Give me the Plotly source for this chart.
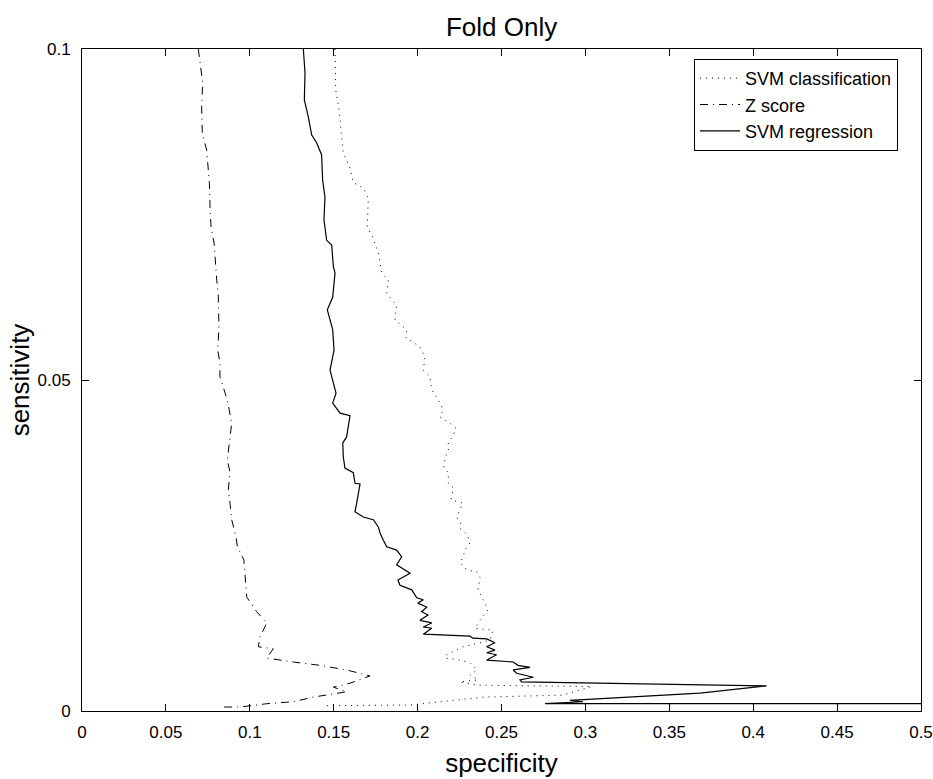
import plotly.graph_objects as go

# ---------------- data ----------------
svm_reg_spec = [0.1319, 0.1329, 0.1325, 0.1349, 0.1369, 0.1399, 0.1428, 0.1434, 0.1448, 0.1442,
                0.1458, 0.1488, 0.1498, 0.1508, 0.1494, 0.1462, 0.1494, 0.1502, 0.1478, 0.1514,
                0.1494, 0.1538, 0.1597, 0.1577, 0.1554, 0.1557, 0.1567, 0.1617, 0.1627, 0.1657,
                0.1637, 0.1627, 0.1676, 0.1736, 0.1766, 0.1776, 0.1796, 0.1816, 0.1875, 0.1905,
                0.1875, 0.1955, 0.1883, 0.1895, 0.1965, 0.1995, 0.2034, 0.2002, 0.2054, 0.2024,
                0.2062, 0.2014, 0.2084, 0.2034, 0.2084, 0.2034, 0.2312, 0.2330, 0.2412, 0.2461,
                0.2412, 0.2461, 0.2412, 0.2471, 0.2412, 0.2570, 0.2598, 0.2670, 0.2570, 0.2590,
                0.2690, 0.2610, 0.2620, 0.4080, 0.3683, 0.2908, 0.2986, 0.2759, 0.5000]
svm_reg_sens = [0.1000, 0.0964, 0.0923, 0.0897, 0.0870, 0.0858, 0.0840, 0.0802, 0.0776, 0.0742,
                0.0711, 0.0704, 0.0671, 0.0662, 0.0625, 0.0606, 0.0576, 0.0545, 0.0515, 0.0480,
                0.0465, 0.0450, 0.0446, 0.0414, 0.0405, 0.0384, 0.0367, 0.0360, 0.0344, 0.0343,
                0.0314, 0.0301, 0.0293, 0.0289, 0.0278, 0.0269, 0.0258, 0.0248, 0.0243, 0.0233,
                0.0221, 0.0208, 0.0198, 0.0190, 0.0183, 0.0171, 0.0168, 0.0163, 0.0157, 0.0150,
                0.0145, 0.0137, 0.0133, 0.0127, 0.0125, 0.0116, 0.0113, 0.0110, 0.0109, 0.0103,
                0.0097, 0.0092, 0.0088, 0.0085, 0.0077, 0.0074, 0.0069, 0.0066, 0.0062, 0.0057,
                0.0051, 0.0047, 0.0044, 0.0038, 0.0027, 0.0016, 0.0014, 0.0011, 0.0011]

svm_cls_spec = [0.1508, 0.1508, 0.1512, 0.1532, 0.1548, 0.1557, 0.1597, 0.1617, 0.1676, 0.1706,
                0.1700, 0.1732, 0.1766, 0.1786, 0.1825, 0.1816, 0.1846, 0.1875, 0.1865, 0.1935,
                0.1931, 0.1974, 0.2014, 0.2044, 0.2034, 0.2074, 0.2084, 0.2114, 0.2153, 0.2134,
                0.2193, 0.2229, 0.2209, 0.2183, 0.2183, 0.2163, 0.2157, 0.2183, 0.2183, 0.2213,
                0.2199, 0.2269, 0.2233, 0.2257, 0.2253, 0.2296, 0.2312, 0.2282, 0.2272, 0.2253,
                0.2294, 0.2354, 0.2372, 0.2360, 0.2390, 0.2420, 0.2372, 0.2342, 0.2449, 0.2431,
                0.2372, 0.2271, 0.2175, 0.2163, 0.2253, 0.2312, 0.2354, 0.2312, 0.2360, 0.2253,
                0.2354, 0.3039, 0.2866, 0.2390, 0.1955, 0.1436]
svm_cls_sens = [0.1000, 0.0979, 0.0938, 0.0908, 0.0867, 0.0843, 0.0820, 0.0798, 0.0790, 0.0775,
                0.0731, 0.0716, 0.0692, 0.0662, 0.0651, 0.0631, 0.0621, 0.0613, 0.0591, 0.0576,
                0.0563, 0.0557, 0.0550, 0.0535, 0.0515, 0.0505, 0.0485, 0.0474, 0.0455, 0.0444,
                0.0435, 0.0427, 0.0415, 0.0405, 0.0394, 0.0382, 0.0367, 0.0360, 0.0344, 0.0337,
                0.0319, 0.0314, 0.0293, 0.0284, 0.0276, 0.0266, 0.0254, 0.0243, 0.0233, 0.0224,
                0.0213, 0.0210, 0.0202, 0.0183, 0.0168, 0.0153, 0.0137, 0.0125, 0.0122, 0.0107,
                0.0103, 0.0097, 0.0085, 0.0080, 0.0077, 0.0073, 0.0062, 0.0054, 0.0047, 0.0044,
                0.0039, 0.0037, 0.0024, 0.0021, 0.0009, 0.0008]

zscore_spec = [0.0693, 0.0703, 0.0719, 0.0713, 0.0717, 0.0743, 0.0753, 0.0759, 0.0763, 0.0769,
               0.0787, 0.0794, 0.0803, 0.0812, 0.0812, 0.0816, 0.0809, 0.0822, 0.0822, 0.0842,
               0.0866, 0.0892, 0.0878, 0.0866, 0.0882, 0.0872, 0.0882, 0.0892, 0.0918, 0.0926,
               0.0965, 0.0971, 0.0982, 0.1041, 0.1101, 0.1061, 0.1051, 0.1140, 0.1101, 0.1259,
               0.1418, 0.1577, 0.1716, 0.1597, 0.1498, 0.1577, 0.1458, 0.1378, 0.1259, 0.1101,
               0.0942, 0.0822]
zscore_sens = [0.1000, 0.0979, 0.0949, 0.0912, 0.0873, 0.0847, 0.0822, 0.0798, 0.0761, 0.0731,
               0.0707, 0.0681, 0.0651, 0.0631, 0.0606, 0.0580, 0.0545, 0.0526, 0.0505, 0.0489,
               0.0470, 0.0435, 0.0409, 0.0379, 0.0361, 0.0334, 0.0314, 0.0289, 0.0263, 0.0248,
               0.0228, 0.0202, 0.0172, 0.0150, 0.0133, 0.0112, 0.0097, 0.0094, 0.0080, 0.0074,
               0.0069, 0.0062, 0.0053, 0.0042, 0.0036, 0.0029, 0.0024, 0.0021, 0.0014, 0.0011,
               0.0006, 0.0006]

x_tick_vals = [0, 0.05, 0.1, 0.15, 0.2, 0.25, 0.3, 0.35, 0.4, 0.45, 0.5]
x_tick_text = ["0", "0.05", "0.1", "0.15", "0.2", "0.25", "0.3", "0.35", "0.4", "0.45", "0.5"]
y_tick_vals = [0, 0.05, 0.1]
y_tick_text = ["0", "0.05", "0.1"]

series_names = ["SVM classification", "Z score", "SVM regression"]

# ---------------- figure ----------------
FONT = "Liberation Sans, Arial, Helvetica, sans-serif"

fig = go.Figure()
fig.add_trace(go.Scatter(x=svm_cls_spec, y=svm_cls_sens, mode="lines", name=series_names[0],
                         line=dict(color="black", width=1, dash="1px,5px")))
fig.add_trace(go.Scatter(x=zscore_spec, y=zscore_sens, mode="lines", name=series_names[1],
                         line=dict(color="black", width=1, dash="8px,5px,1px,5px")))
fig.add_trace(go.Scatter(x=svm_reg_spec, y=svm_reg_sens, mode="lines", name=series_names[2],
                         line=dict(color="black", width=1.2)))

axis_common = dict(showgrid=False, zeroline=False, showline=True, linecolor="black", linewidth=1,
                   mirror="ticks", ticks="inside", ticklen=7, tickcolor="black", tickwidth=1,
                   tickfont=dict(family=FONT, size=17, color="black"), automargin=False)

fig.update_layout(
    width=933, height=779,
    margin=dict(l=82, r=12, t=49, b=68),
    paper_bgcolor="white", plot_bgcolor="white",
    font=dict(family=FONT, color="black"),
    title=dict(text="Fold Only", x=0.5376, xanchor="center", y=0.966, yref="container",
               yanchor="middle", font=dict(family=FONT, size=26, color="black")),
    xaxis=dict(range=[0, 0.5], tickvals=x_tick_vals, ticktext=x_tick_text,
               title=dict(text="specificity", font=dict(family=FONT, size=26, color="black"),
                          standoff=12),
               ticklabelstandoff=6, **axis_common),
    yaxis=dict(range=[0, 0.1], tickvals=y_tick_vals, ticktext=y_tick_text,
               title=dict(text="sensitivity", font=dict(family=FONT, size=26, color="black"),
                          standoff=0),
               ticklabelstandoff=7, **axis_common),
    legend=dict(x=0.9726, xanchor="right", y=0.985, yanchor="top",
                bordercolor="black", borderwidth=1, bgcolor="white",
                font=dict(family=FONT, size=18, color="black"),
                tracegroupgap=0, itemwidth=40),
    showlegend=True,
)

fig.write_html("out.html")
